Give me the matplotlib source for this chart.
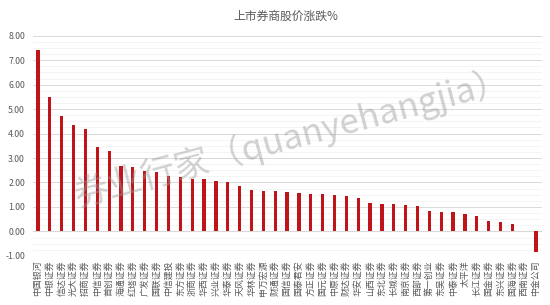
import matplotlib
matplotlib.use("Agg")
import matplotlib.pyplot as plt
from matplotlib.ticker import MultipleLocator, FormatStrFormatter

plt.rcParams["font.family"] = ["Noto Sans CJK SC", "DejaVu Sans"]

# data
brokers = [
    "中国银河", "中银证券", "信达证券", "光大证券", "招商证券", "中信证券",
    "首创证券", "海通证券", "红塔证券", "广发证券", "国联证券", "中信建投",
    "东方证券", "浙商证券", "华西证券", "兴业证券", "华泰证券", "天风证券",
    "华林证券", "申万宏源", "财通证券", "国信证券", "国泰君安", "方正证券",
    "国元证券", "中原证券", "财达证券", "华安证券", "山西证券", "东北证券",
    "长城证券", "南京证券", "西部证券", "第一创业", "东吴证券", "中泰证券",
    "太平洋", "长江证券", "国金证券", "东兴证券", "国海证券", "西南证券",
    "中金公司",
]
change_pct = [
    7.43, 5.48, 4.73, 4.33, 4.17, 3.46, 3.28, 2.68, 2.65, 2.46, 2.41, 2.26,
    2.24, 2.16, 2.15, 2.07, 2.04, 1.87, 1.70, 1.67, 1.66, 1.63, 1.59, 1.54,
    1.54, 1.50, 1.43, 1.37, 1.17, 1.14, 1.13, 1.06, 1.02, 0.82, 0.79, 0.78,
    0.72, 0.64, 0.41, 0.37, 0.29, 0.01, -0.83,
]

fig = plt.figure(figsize=(5.5, 3.05), dpi=100)
ax = fig.add_axes([0.0605, 0.161, 0.925, 0.722])

x = range(len(brokers))
ax.bar(x, change_pct, width=0.27, color="#c0141b", zorder=3)

ax.set_ylim(-1, 8)
ax.set_xlim(-0.4, len(brokers) - 0.5)
ax.yaxis.set_major_locator(MultipleLocator(1))
ax.yaxis.set_minor_locator(MultipleLocator(0.25))
ax.yaxis.set_major_formatter(FormatStrFormatter("%.2f"))
ax.grid(axis="y", which="major", color="#d9d9d9", linewidth=0.7, zorder=0)
ax.grid(axis="y", which="minor", color="#f0f0f0", linewidth=0.5, zorder=0)
ax.axhline(0, color="#d0d0d0", linewidth=0.8, zorder=1)

for s in ax.spines.values():
    s.set_visible(False)
ax.tick_params(axis="both", which="both", length=0)
ax.tick_params(axis="y", labelsize=6.3, labelcolor="#595959", pad=6)

ax.set_xticks(list(x))
ax.set_xticklabels(brokers, rotation=90, fontsize=6.4, color="#595959")
ax.tick_params(axis="x", pad=3)

fig.text(0.52, 0.945, "上市券商股价涨跌%", ha="center", va="center",
         fontsize=8.5, color="#595959")

# watermark
fig.text(0.53, 0.55, "券业行家（quanyehangjia）", ha="center", va="center",
         fontsize=25, color="#9a9a9a", alpha=0.45, rotation=15,
         fontweight="light", zorder=10)

fig.savefig("out.png", dpi=100)
